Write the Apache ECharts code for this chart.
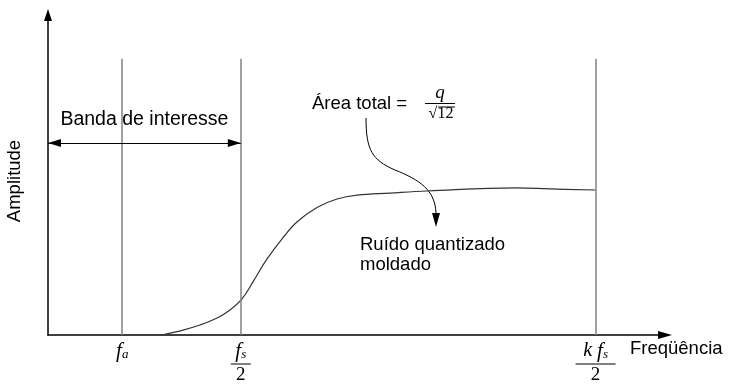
<!DOCTYPE html>
<html>
<head>
    <meta charset="utf-8">
    <title>Ruído quantizado moldado</title>
    <style>
        html, body { margin: 0; padding: 0; background: #fff; }
        #chart { width: 730px; height: 387px; }
    </style>
</head>
<body>
    <div id="chart"></div>
    <script src="https://cdn.jsdelivr.net/npm/echarts@6.0.0/dist/echarts.min.js"></script>
    <script>
        // eixo x em unidades onde fs/2 = 10
        var curveX = [5.9, 7.0, 7.88, 8.77, 9.44, 10.06, 10.63, 11.36, 12.19, 12.91, 13.95, 14.99, 16.03, 17.74, 19.66, 24.33, 26.04, 28.4];
        var curveY = [0, 0.034, 0.069, 0.117, 0.172, 0.248, 0.365, 0.523, 0.67, 0.777, 0.877, 0.935, 0.962, 0.976, 0.99, 1.011, 1.004, 0.997];
        var boundX = [3.85, 10, 28.4];      // fa, fs/2, k fs/2
        var boundTop = 1.9;
        var bandX = [0, 10];                // banda de interesse
        var bandY = 1.32;

        var sans = 'Liberation Sans, Arial, sans-serif';
        var serif = 'Liberation Serif, Times New Roman, serif';

        var chart = echarts.init(document.getElementById('chart'));

        var curveData = curveX.map(function (x, i) { return [x, curveY[i]]; });

        // rótulos das frequências (f_a, f_s/2, k f_s/2)
        var tickLabel = function (v) {
            if (Math.abs(v - boundX[0]) < 1e-6) return '{f|f}{sub|a}';
            if (Math.abs(v - boundX[1]) < 1e-6) return '{f|f}{sub|s}\n{bar|}\n{d|2}';
            return '{k|k }{f|f}{sub|s}\n{barw|}\n{d|2}';
        };

        // ponta de seta para a marcação da banda
        var tip = { symbol: 'triangle', symbolSize: [8, 13], symbolOffset: [0, 6.5] };

        var option = {
            animation: false,
            grid: { left: 48, right: 65, top: 15, bottom: 52, outerBoundsMode: 'none' },
            xAxis: {
                type: 'value',
                min: 0,
                max: 32,
                name: 'Freqüência',
                nameLocation: 'end',
                nameGap: -35,
                nameMoveOverlap: false,
                nameTextStyle: {
                    color: '#000', fontFamily: sans, fontSize: 18.5,
                    align: 'left', verticalAlign: 'top', padding: [4, 0, 0, 0]
                },
                axisLine: {
                    symbol: ['none', 'triangle'],
                    symbolSize: [8, 14],
                    lineStyle: { color: '#000', width: 1.5 }
                },
                axisTick: { show: false },
                splitLine: { show: false },
                axisLabel: {
                    customValues: boundX,
                    margin: 6,
                    color: '#000',
                    formatter: tickLabel,
                    rich: {
                        f: { fontFamily: serif, fontStyle: 'italic', fontSize: 21, lineHeight: 20, color: '#000' },
                        k: { fontFamily: serif, fontStyle: 'italic', fontSize: 20, lineHeight: 20, color: '#000' },
                        sub: { fontFamily: serif, fontStyle: 'italic', fontSize: 13, lineHeight: 10, verticalAlign: 'bottom', color: '#000' },
                        bar: { width: 20, height: 1, lineHeight: 6, backgroundColor: '#000' },
                        barw: { width: 40, height: 1, lineHeight: 6, backgroundColor: '#000' },
                        d: { fontFamily: serif, fontSize: 19, lineHeight: 16, color: '#000' }
                    }
                }
            },
            yAxis: {
                type: 'value',
                min: 0,
                max: 2.2,
                name: 'Amplitude',
                nameLocation: 'middle',
                nameGap: 24,
                nameTextStyle: { color: '#000', fontFamily: sans, fontSize: 18.5, padding: [0, 12, 0, 0] },
                axisLine: {
                    show: true,
                    symbol: ['none', 'triangle'],
                    symbolSize: [8, 12],
                    lineStyle: { color: '#000', width: 1.5 }
                },
                axisTick: { show: false },
                axisLabel: { show: false },
                splitLine: { show: false }
            },
            series: [
                {
                    name: 'Ruído quantizado moldado',
                    type: 'line',
                    data: curveData,
                    smooth: 0.4,
                    showSymbol: false,
                    lineStyle: { color: '#333', width: 1.2 },
                    markLine: {
                        silent: true,
                        symbol: ['none', 'none'],
                        label: { show: false },
                        lineStyle: { color: '#808080', width: 1.5, type: 'solid' },
                        data: boundX.map(function (x) {
                            return [{ coord: [x, 0] }, { coord: [x, boundTop] }];
                        })
                    }
                },
                {
                    name: 'Banda de interesse',
                    type: 'line',
                    data: [],
                    markLine: {
                        silent: true,
                        symbol: ['triangle', 'triangle'],
                        symbolSize: 13,
                        lineStyle: { color: '#000', width: 1, type: 'solid' },
                        label: {
                            show: true,
                            position: 'middle',
                            distance: 13,
                            formatter: 'Banda de interesse',
                            color: '#000',
                            fontFamily: sans,
                            fontSize: 19.5
                        },
                        data: [[
                            Object.assign({ coord: [bandX[0], bandY] }, tip),
                            Object.assign({ coord: [bandX[1], bandY] }, tip)
                        ]]
                    }
                }
            ],
            graphic: [
                {
                    type: 'text', x: 312, y: 104,
                    style: { text: 'Área total =', fill: '#000', fontFamily: sans, fontSize: 18.5, verticalAlign: 'middle' }
                },
                {
                    type: 'text', x: 440, y: 93,
                    style: { text: 'q', fill: '#000', fontFamily: serif, fontStyle: 'italic', fontSize: 19, align: 'center', verticalAlign: 'middle' }
                },
                {
                    type: 'line', shape: { x1: 425, y1: 103.5, x2: 455, y2: 103.5 },
                    style: { stroke: '#000', lineWidth: 1 }
                },
                {
                    type: 'line', shape: { x1: 438, y1: 107, x2: 455, y2: 107 },
                    style: { stroke: '#000', lineWidth: 1 }
                },
                {
                    type: 'text', x: 441, y: 114,
                    style: { text: '√12', fill: '#000', fontFamily: serif, fontSize: 16, align: 'center', verticalAlign: 'middle' }
                },
                {
                    type: 'bezierCurve',
                    shape: { x1: 366, y1: 118, cpx1: 366, cpy1: 150, cpx2: 372, cpy2: 160, x2: 395, y2: 170 },
                    style: { stroke: '#000', fill: null, lineWidth: 1 }
                },
                {
                    type: 'bezierCurve',
                    shape: { x1: 395, y1: 170, cpx1: 420, cpy1: 180, cpx2: 435, cpy2: 190, x2: 436, y2: 213 },
                    style: { stroke: '#000', fill: null, lineWidth: 1 }
                },
                {
                    type: 'polygon',
                    shape: { points: [[436, 227], [432, 213], [440, 213]] },
                    style: { fill: '#000' }
                },
                {
                    type: 'text', x: 360, y: 234.5,
                    style: {
                        text: 'Ruído quantizado\nmoldado', fill: '#000', fontFamily: sans,
                        fontSize: 18.5, lineHeight: 20, verticalAlign: 'top'
                    }
                }
            ]
        };

        chart.setOption(option);
        window.addEventListener('resize', function () {
            chart.resize();
        });
    </script>
</body>
</html>
